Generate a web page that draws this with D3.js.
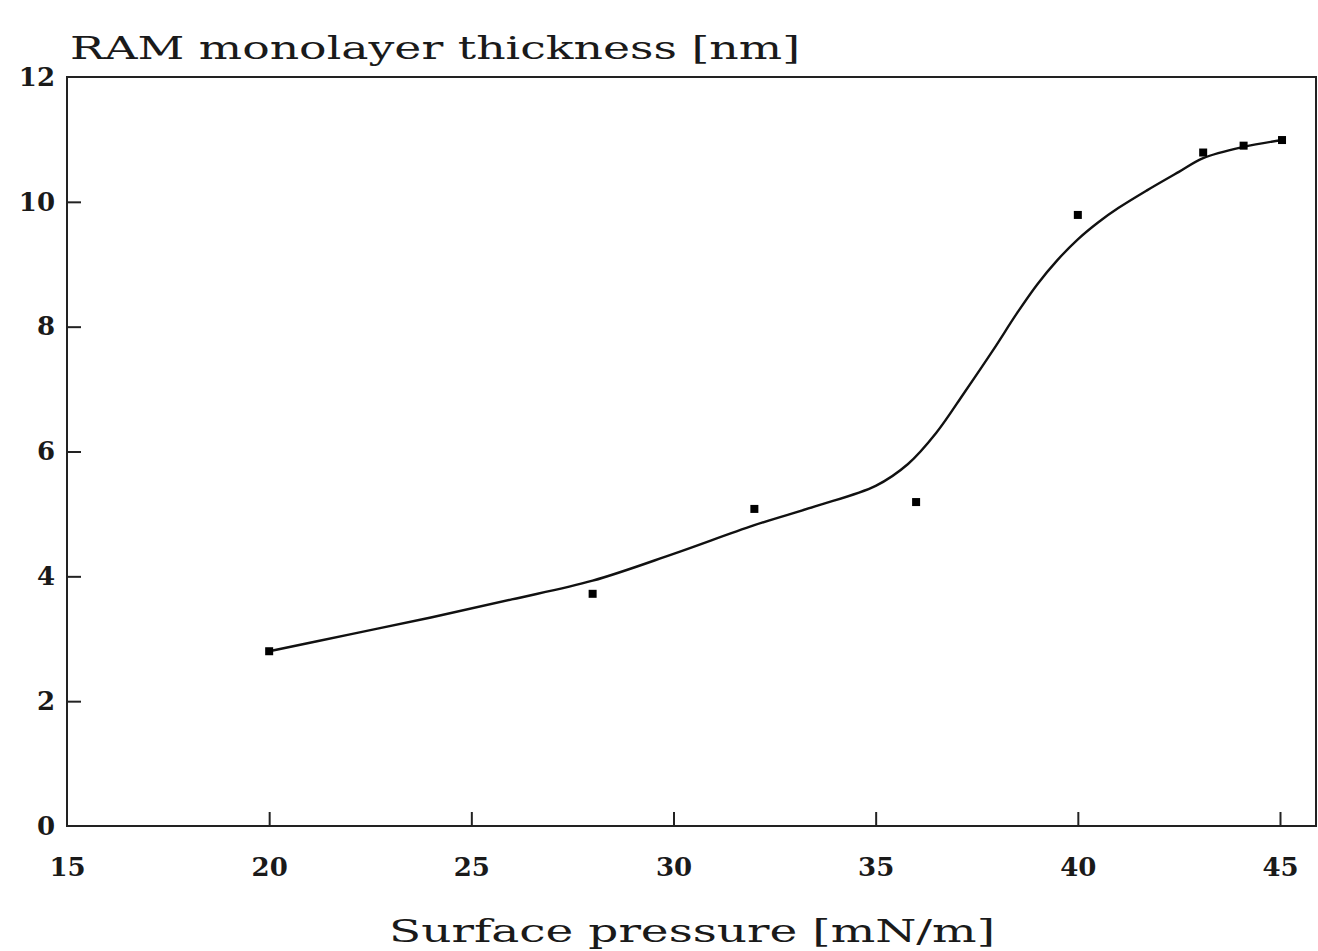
<!DOCTYPE html>
<html>
<head>
<meta charset="utf-8">
<script src="https://cdn.jsdelivr.net/npm/d3@7"></script>
<style>
  html, body { margin: 0; padding: 0; background: #fff; }
  svg { display: block; }
  .tick-label { font-family: "DejaVu Serif", serif; font-weight: bold; font-size: 26px; fill: #1a1a1a; }
  .title { font-family: "DejaVu Serif", serif; font-size: 31px; fill: #1a1a1a; }
</style>
</head>
<body>
<div id="chart"></div>
<script>
'use strict';

// measured points
var pressure = [20, 28, 32, 36, 40, 43.1, 44.1, 45.05];
var thickness = [2.8, 3.72, 5.08, 5.19, 9.79, 10.79, 10.9, 10.99];

// fitted curve
var fitPressure = [20, 22, 24, 26, 28, 30, 32, 33.5, 35, 35.8, 36.5, 37.2, 37.9, 38.5, 39.0, 39.5, 40.0, 40.5, 41.0, 41.7, 42.5, 43.1, 44.1, 45.05];
var fitThickness = [2.8, 3.07, 3.34, 3.63, 3.93, 4.36, 4.82, 5.12, 5.45, 5.8, 6.3, 6.95, 7.62, 8.22, 8.68, 9.07, 9.4, 9.67, 9.9, 10.18, 10.48, 10.7, 10.88, 10.99];

var xTicks = [15, 20, 25, 30, 35, 40, 45];
var yTicks = [0, 2, 4, 6, 8, 10, 12];

var width = 1318, height = 951;
var plot = { left: 67, right: 1316, top: 77, bottom: 826 };

var svg = d3.select('#chart').append('svg')
  .attr('width', width)
  .attr('height', height);

var x = d3.scaleLinear().domain([15, 45]).range([plot.left, 1280]);
var y = d3.scaleLinear().domain([0, 12]).range([plot.bottom, plot.top]);

// frame
svg.append('rect')
  .attr('x', plot.left)
  .attr('y', plot.top)
  .attr('width', plot.right - plot.left)
  .attr('height', plot.bottom - plot.top)
  .attr('fill', 'none')
  .attr('stroke', '#222')
  .attr('stroke-width', 2);

// x axis, ticks pointing up into the plot
var xAxis = d3.axisBottom(x).tickValues(xTicks).tickSize(-14).tickPadding(32);
var gx = svg.append('g')
  .attr('transform', 'translate(0,' + plot.bottom + ')')
  .call(xAxis);
gx.select('.domain').remove();
gx.selectAll('line').attr('stroke', '#222').attr('stroke-width', 2);
gx.selectAll('text').attr('class', 'tick-label').attr('fill', null).attr('dy', '0.71em').attr('font-size', null).attr('font-family', null);

// y axis, ticks pointing right into the plot
var yAxis = d3.axisLeft(y).tickValues(yTicks).tickSize(-14).tickPadding(12);
var gy = svg.append('g')
  .attr('transform', 'translate(' + plot.left + ',0)')
  .call(yAxis);
gy.select('.domain').remove();
gy.selectAll('line').attr('stroke', '#222').attr('stroke-width', 2);
gy.selectAll('text').attr('class', 'tick-label').attr('fill', null).attr('font-size', null).attr('font-family', null);
gy.selectAll('.tick').filter(function (d) { return d === 0 || d === 12; }).select('line').remove();
gx.selectAll('.tick').filter(function (d) { return d === 15; }).select('line').remove();

// fitted curve
var fit = fitPressure.map(function (p, i) { return [p, fitThickness[i]]; });
var line = d3.line()
  .x(function (d) { return x(d[0]); })
  .y(function (d) { return y(d[1]); })
  .curve(d3.curveCatmullRom.alpha(0.5));

svg.append('path')
  .datum(fit)
  .attr('d', line)
  .attr('fill', 'none')
  .attr('stroke', '#111')
  .attr('stroke-width', 2.4);

// measured points
var pts = pressure.map(function (p, i) { return [p, thickness[i]]; });
svg.append('g').selectAll('rect')
  .data(pts)
  .enter().append('rect')
  .attr('x', function (d) { return x(d[0]) - 4; })
  .attr('y', function (d) { return y(d[1]) - 4; })
  .attr('width', 8)
  .attr('height', 8)
  .attr('fill', '#000');

// axis titles
svg.append('text')
  .attr('class', 'title')
  .attr('x', 70)
  .attr('y', 59)
  .attr('textLength', 730)
  .attr('lengthAdjust', 'spacingAndGlyphs')
  .text('RAM monolayer thickness [nm]');

svg.append('text')
  .attr('class', 'title')
  .attr('x', 389)
  .attr('y', 942)
  .attr('font-size', 33)
  .attr('textLength', 606)
  .attr('lengthAdjust', 'spacingAndGlyphs')
  .text('Surface pressure [mN/m]');
</script>
</body>
</html>
